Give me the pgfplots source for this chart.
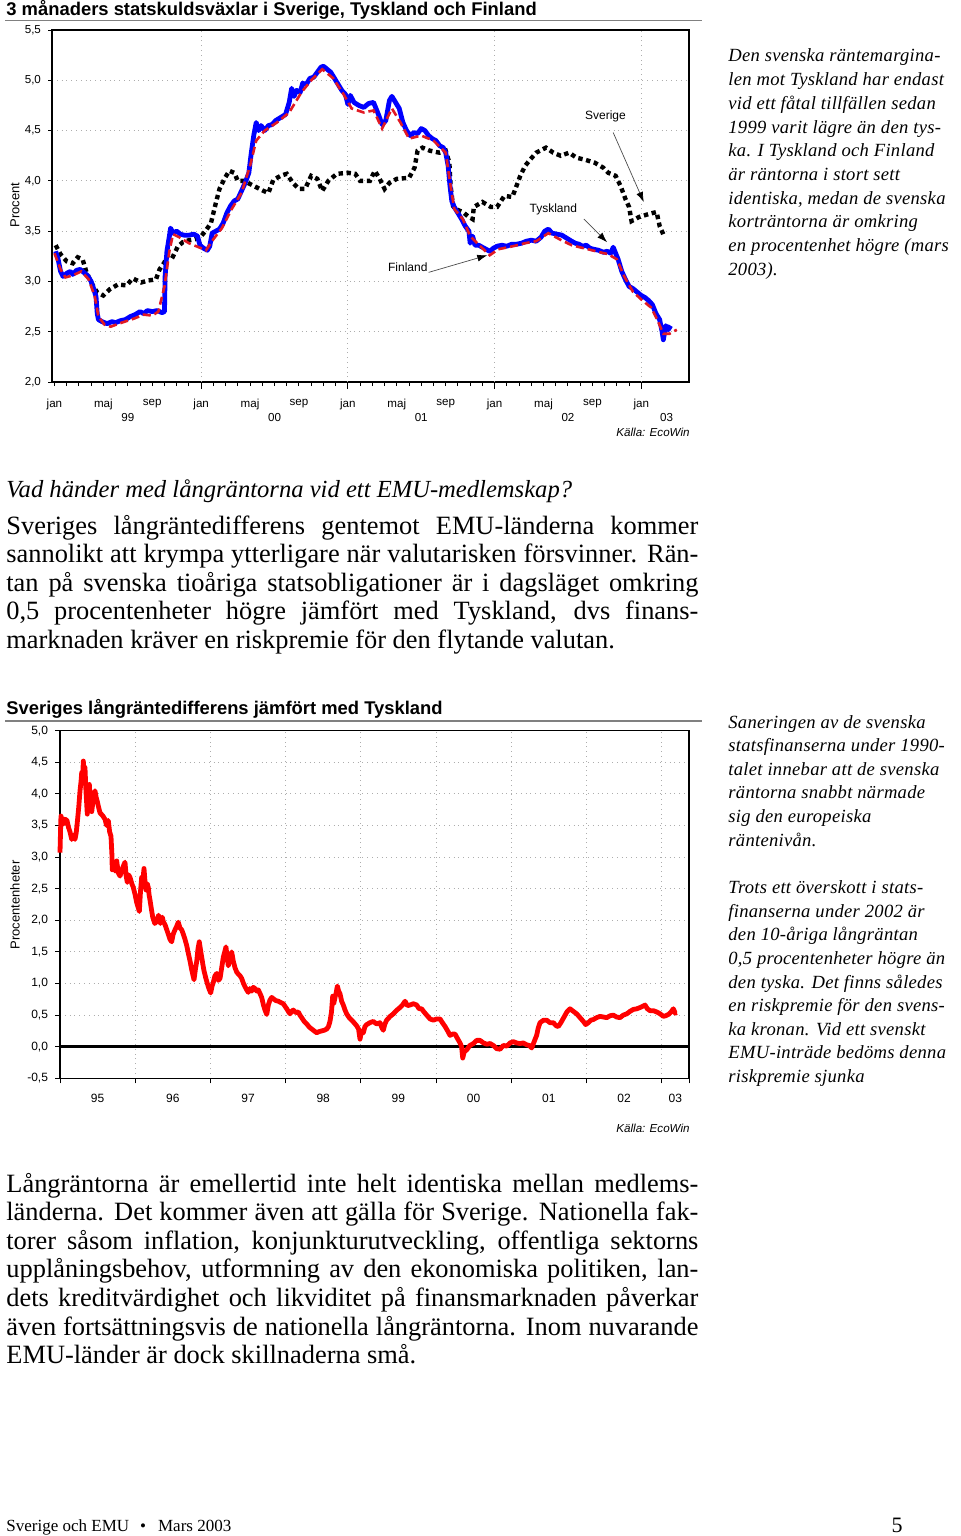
\documentclass[border=0pt]{standalone}
\usepackage{pgfplots}
\pgfplotsset{compat=1.18}
\usepackage{fontspec}
\setmainfont{Liberation Serif}
\newfontfamily\arial{Liberation Sans}
\newfontfamily\sidefont[LetterSpace=1.5]{Liberation Serif}
\usetikzlibrary{arrows.meta}
\definecolor{gridgray}{gray}{0.68}
\definecolor{dred}{RGB}{225,25,35}
\definecolor{dblue}{RGB}{0,0,255}
\pgfplotsset{
  chartstyle/.style={
    scale only axis,
    axis line style={black, line width=0.6pt},
    tick style={black, line width=0.5pt},
    tick align=outside,
    tick pos=left,
    /pgf/number format/use comma,
    /pgf/number format/fixed,
    /pgf/number format/fixed zerofill,
    /pgf/number format/precision=1,
    /pgf/number format/assume math mode=true,
    grid style={gridgray, dotted, line width=0.5pt},
    ymajorgrids,
    clip=false,
  }
}
\newcommand\tkfont{\arial\fontsize{5.8}{6.5}\selectfont}
\newcommand\sfnt{\sidefont\itshape\fontsize{9.3}{11.85}\selectfont}
\begin{document}
\begin{tikzpicture}
\path[use as bounding box] (0,0) rectangle (480pt,-768pt);

% ---------------- Chart 1 ----------------
\node[anchor=base west, inner sep=0, font=\arial\bfseries\fontsize{9.2}{11}\selectfont] at (3pt,-7.6pt) {3 månaders statskuldsväxlar i Sverige, Tyskland och Finland};
\draw[gray, line width=0.7pt] (2.5pt,-10.4pt) -- (351pt,-10.4pt);
\node[rotate=90, inner sep=0, font=\arial\fontsize{6.5}{7}\selectfont] at (7.5pt,-102.5pt) {Procent};

\begin{axis}[chartstyle,
  at={(26pt,-191pt)}, anchor=south west,
  width=318.5pt, height=176pt,
  xmin=-0.2, xmax=51.9, ymin=2, ymax=5.5,
  ytick={2,2.5,3,3.5,4,4.5,5,5.5},
  xtick={0,4,...,48},
  xticklabels={jan,maj,sep,jan,maj,sep,jan,maj,sep,jan,maj,sep,jan},
  minor x tick num=3,
  major tick length=2pt, minor tick length=2pt,
  extra x ticks={12,24,36,48},
  extra x tick labels={},
  extra x tick style={grid=major, major tick length=3.5pt},
  ticklabel style={font=\tkfont},
  xticklabel style={yshift=-3.2pt},
]
\addplot[black, line width=2.2pt, dash pattern=on 2.2pt off 1.8pt] coordinates {
(0.1,3.36) (0.5,3.27) (1.0,3.20) (1.5,3.18) (1.9,3.24) (2.3,3.22) (2.6,3.10) (3.0,2.99) (3.5,2.89) (4.0,2.86) (4.5,2.92) (5.2,2.97) (5.9,2.96) (6.4,3.03) (7.1,2.99) (7.7,3.01) (8.3,3.02) (8.6,3.12) (9.0,3.19) (9.3,3.28) (9.7,3.25) (10.1,3.35) (10.5,3.39) (11.0,3.41) (11.5,3.42) (12.0,3.45) (12.4,3.51) (12.8,3.58) (13.2,3.78) (13.5,3.92) (13.9,4.02) (14.3,4.10) (14.7,4.08) (15.0,4.00) (15.5,4.00) (16.3,3.95) (17.1,3.90) (17.5,3.88) (17.9,4.01) (18.5,4.05) (19.0,4.07) (19.5,3.98) (20.0,3.92) (20.5,3.92) (21.0,4.05) (21.5,4.02) (21.9,3.90) (22.4,4.00) (23.1,4.07) (24.0,4.08) (24.6,4.07) (25.0,4.00) (25.8,4.00) (26.2,4.10) (26.6,4.02) (27.0,3.92) (27.4,3.98) (28.0,4.02) (29.0,4.03) (29.45,4.13) (29.7,4.30) (30.1,4.33) (30.7,4.30) (31.5,4.28) (32.0,4.30) (32.3,4.18) (32.4,3.95) (32.6,3.75) (32.8,3.72) (33.4,3.69) (33.8,3.65) (34.2,3.62) (34.3,3.74) (35.0,3.79) (35.7,3.74) (36.2,3.74) (36.8,3.85) (37.45,3.84) (37.7,3.92) (38.1,4.05) (38.5,4.15) (38.9,4.21) (39.4,4.28) (40.2,4.33) (40.8,4.28) (41.4,4.25) (42.1,4.28) (42.7,4.23) (43.4,4.21) (44.2,4.18) (44.9,4.13) (45.3,4.08) (45.9,4.05) (46.3,3.95) (46.7,3.82) (47.0,3.74) (47.2,3.60) (47.8,3.64) (48.6,3.67) (49.25,3.69) (49.5,3.55) (49.9,3.44)
};
\addplot[dblue, line width=2.4pt, line join=round] coordinates {
(0.1,3.30) (0.3,3.22) (0.5,3.10) (0.7,3.05) (1.0,3.08) (1.3,3.10) (1.5,3.07) (1.8,3.11) (2.1,3.12) (2.4,3.09) (2.7,3.06) (3.0,3.00) (3.2,2.93) (3.4,2.85) (3.5,2.68) (3.6,2.62) (3.9,2.60) (4.3,2.58) (4.7,2.60) (5.0,2.59) (5.4,2.61) (5.8,2.62) (6.2,2.65) (6.6,2.67) (7.0,2.70) (7.3,2.68) (7.6,2.71) (8.0,2.70) (8.4,2.71) (8.8,2.69) (9.0,2.70) (9.05,3.05) (9.2,3.30) (9.4,3.45) (9.5,3.53) (9.7,3.48) (10.0,3.50) (10.3,3.47) (10.6,3.46) (11.0,3.46) (11.4,3.47) (11.7,3.45) (11.9,3.36) (12.2,3.33) (12.5,3.31) (12.7,3.35) (12.9,3.48) (13.2,3.50) (13.5,3.52) (13.8,3.58) (14.1,3.68) (14.4,3.75) (14.7,3.80) (15.0,3.82) (15.3,3.90) (15.6,3.98) (15.9,4.08) (16.1,4.28) (16.3,4.45) (16.5,4.58) (16.7,4.50) (16.9,4.55) (17.2,4.50) (17.5,4.55) (17.8,4.56) (18.1,4.60) (18.5,4.63) (18.9,4.66) (19.2,4.78) (19.4,4.92) (19.6,4.84) (19.8,4.90) (20.1,4.88) (20.3,4.97) (20.6,4.96) (20.9,5.02) (21.2,5.03) (21.5,5.08) (21.8,5.13) (22.0,5.14) (22.3,5.11) (22.6,5.08) (22.9,5.02) (23.2,4.96) (23.5,4.90) (23.8,4.86) (24.0,4.76) (24.2,4.85) (24.5,4.78) (24.9,4.75) (25.3,4.73) (25.7,4.77) (26.1,4.78) (26.5,4.66) (26.8,4.56) (27.1,4.60) (27.4,4.80) (27.6,4.84) (27.9,4.78) (28.2,4.72) (28.5,4.58) (28.8,4.50) (29.1,4.45) (29.4,4.48) (29.7,4.47) (30.0,4.52) (30.3,4.50) (30.6,4.45) (30.9,4.42) (31.2,4.40) (31.5,4.35) (31.8,4.33) (32.0,4.28) (32.2,4.15) (32.35,3.95) (32.5,3.80) (32.7,3.74) (33.0,3.68) (33.3,3.62) (33.6,3.55) (33.9,3.50) (34.0,3.38) (34.2,3.45) (34.4,3.36) (34.7,3.36) (35.0,3.34) (35.3,3.32) (35.6,3.30) (35.9,3.33) (36.2,3.35) (36.6,3.36) (37.0,3.35) (37.4,3.37) (37.8,3.37) (38.2,3.38) (38.6,3.40) (39.0,3.41) (39.4,3.40) (39.8,3.44) (40.1,3.50) (40.4,3.52) (40.7,3.48) (41.1,3.47) (41.5,3.46) (41.9,3.43) (42.3,3.40) (42.6,3.38) (42.9,3.37) (43.2,3.35) (43.5,3.36) (43.8,3.33) (44.1,3.32) (44.5,3.31) (44.9,3.29) (45.2,3.30) (45.5,3.28) (45.7,3.34) (45.9,3.28) (46.1,3.22) (46.4,3.10) (46.7,3.02) (47.0,2.95) (47.3,2.93) (47.6,2.90) (48.0,2.86) (48.3,2.84) (48.6,2.81) (48.9,2.77) (49.2,2.68) (49.5,2.62) (49.7,2.50) (49.8,2.42) (50.0,2.56) (50.2,2.52) (50.4,2.56)
};
\addplot[dred, line width=1.3pt, dash pattern=on 4pt off 2pt] coordinates {
(0.0,3.28) (0.5,3.12) (0.9,3.04) (1.5,3.06) (2.2,3.10) (2.8,3.02) (3.3,2.85) (3.6,2.65) (4.1,2.57) (4.6,2.55) (5.5,2.59) (6.5,2.63) (7.3,2.67) (8.0,2.66) (8.5,2.70) (9.0,2.95) (9.4,3.30) (9.7,3.47) (10.2,3.44) (11.0,3.38) (11.8,3.34) (12.4,3.31) (13.0,3.42) (13.7,3.53) (14.5,3.72) (15.3,3.88) (16.0,4.15) (16.5,4.40) (17.2,4.50) (18.2,4.58) (19.2,4.68) (20.2,4.88) (21.0,5.00) (21.9,5.11) (22.8,5.02) (23.7,4.85) (24.3,4.72) (25.3,4.68) (26.1,4.70) (26.8,4.52) (27.6,4.72) (28.3,4.58) (29.0,4.42) (30.0,4.45) (31.0,4.40) (32.0,4.28) (32.4,3.95) (32.7,3.72) (33.4,3.62) (34.0,3.45) (35.0,3.33) (35.6,3.26) (36.3,3.32) (37.5,3.35) (38.5,3.38) (39.4,3.40) (40.4,3.48) (41.3,3.42) (42.3,3.36) (43.3,3.33) (44.3,3.30) (45.3,3.27) (46.0,3.22) (46.6,3.05) (47.3,2.90) (48.0,2.82) (48.8,2.74) (49.3,2.62) (49.8,2.48) (50.3,2.48) (50.9,2.52)
};
% year labels
\node[font=\tkfont, inner sep=0] at (axis cs:6,2) [yshift=-17.8pt] {99};
\node[font=\tkfont, inner sep=0] at (axis cs:18,2) [yshift=-17.8pt] {00};
\node[font=\tkfont, inner sep=0] at (axis cs:30,2) [yshift=-17.8pt] {01};
\node[font=\tkfont, inner sep=0] at (axis cs:42,2) [yshift=-17.8pt] {02};
\node[font=\tkfont, inner sep=0] at (axis cs:50.06,2) [yshift=-17.8pt] {03};
\node[anchor=east, inner sep=0, font=\arial\itshape\fontsize{5.8}{6.5}\selectfont] at (rel axis cs:1,0) [xshift=0.5pt, yshift=-25pt] {Källa: EcoWin};
% annotations
\node[inner sep=0, font=\arial\fontsize{6}{7}\selectfont] at (axis cs:45.07,4.64) {Sverige};
\node[inner sep=0, font=\arial\fontsize{6}{7}\selectfont] at (axis cs:40.8,3.72) {Tyskland};
\node[inner sep=0, font=\arial\fontsize{6}{7}\selectfont] at (axis cs:28.9,3.14) {Finland};
\draw[gray!60!black, line width=0.35pt, -{Latex[length=5pt,width=3.5pt,color=black]}] (axis cs:45.7,4.48) -- (axis cs:48.2,3.79);
\draw[gray!60!black, line width=0.35pt, -{Latex[length=5pt,width=3.5pt,color=black]}] (axis cs:43.3,3.62) -- (axis cs:45.2,3.39);
\draw[gray!60!black, line width=0.35pt, -{Latex[length=5pt,width=3.5pt,color=black]}] (axis cs:30.6,3.09) -- (axis cs:35.4,3.26);
\end{axis}

% sidebar 1
\foreach \t [count=\i from 0] in {
 {Den svenska räntemargina-},
 {len mot Tyskland har endast},
 {vid ett fåtal tillfällen sedan},
 {1999 varit lägre än den tys-},
 {ka. I Tyskland och Finland},
 {är räntorna i stort sett},
 {identiska, medan de svenska},
 {korträntorna är omkring},
 {en procentenhet högre (mars},
 {2003).}}
 {\node[anchor=base west, inner sep=0, font=\sfnt] at (364pt,{-31pt-\i*11.85pt}) {\t};}

% ---------------- middle text ----------------
\node[anchor=base west, inner sep=0, font=\itshape\fontsize{12.3}{14.3}\selectfont] at (3pt,-248.5pt) {Vad händer med långräntorna vid ett EMU-medlemskap?};
\foreach \t [count=\i from 0] in {
 {Sveriges långräntedifferens gentemot EMU-länderna kommer},
 {sannolikt att krympa ytterligare när valutarisken försvinner. Rän-},
 {tan på svenska tioåriga statsobligationer är i dagsläget omkring},
 {0,5 procentenheter högre jämfört med Tyskland, dvs finans-}}
 {\node[anchor=base west, inner sep=0, font=\fontsize{13.2}{14.3}\selectfont] at (3pt,{-267pt-\i*14.3pt}) {\makebox[346pt][s]{\t}};}
\node[anchor=base west, inner sep=0, font=\fontsize{13.2}{14.3}\selectfont] at (3pt,{-267pt-4*14.3pt}) {marknaden kräver en riskpremie för den flytande valutan.};

% ---------------- Chart 2 ----------------
\node[anchor=base west, inner sep=0, font=\arial\bfseries\fontsize{9.2}{11}\selectfont] at (3pt,-357.3pt) {Sveriges långräntedifferens jämfört med Tyskland};
\draw[gray, line width=0.7pt] (2.5pt,-360.4pt) -- (351pt,-360.4pt);
\node[rotate=90, inner sep=0, font=\arial\fontsize{6.5}{7}\selectfont] at (7.5pt,-452.5pt) {Procentenheter};

\begin{axis}[chartstyle,
  at={(30pt,-539.15pt)}, anchor=south west,
  width=314.5pt, height=173.8pt,
  xmin=1995, xmax=2003.364, ymin=-0.5, ymax=5,
  ytick={-0.5,0,0.5,1,1.5,2,2.5,3,3.5,4,4.5,5},
  xtick={1995,1996,1997,1998,1999,2000,2001,2002,2003,2003.364},
  xticklabels={95,96,97,98,99,00,01,02,03},
  x tick label as interval,
  xmajorgrids,
  major tick length=2.5pt,
  extra y ticks={0}, extra y tick labels={},
  extra y tick style={grid=major, grid style={black, solid, line width=1.5pt}, major tick length=0pt},
  ticklabel style={font=\arial\fontsize{6}{7}\selectfont},
  xticklabel style={yshift=-2pt},
]
\addplot[red, line width=2.4pt, line join=round] coordinates {
(1995.000,3.07) (1995.008,3.45) (1995.013,3.65) (1995.040,3.52) (1995.066,3.60) (1995.093,3.58) (1995.113,3.47) (1995.133,3.40) (1995.156,3.28) (1995.180,3.35) (1995.199,3.28) (1995.215,3.38) (1995.230,3.55) (1995.250,3.80) (1995.266,4.05) (1995.280,4.20) (1995.289,4.34) (1995.300,4.20) (1995.310,4.52) (1995.322,4.30) (1995.332,4.42) (1995.345,4.05) (1995.363,3.68) (1995.375,3.95) (1995.390,4.15) (1995.405,3.82) (1995.422,3.72) (1995.440,3.90) (1995.465,4.05) (1995.480,3.95) (1995.496,3.88) (1995.515,3.78) (1995.532,3.70) (1995.565,3.66) (1995.598,3.60) (1995.620,3.50) (1995.642,3.58) (1995.660,3.40) (1995.678,3.33) (1995.690,3.05) (1995.695,2.80) (1995.715,2.88) (1995.731,2.78) (1995.754,2.94) (1995.775,2.75) (1995.798,2.70) (1995.830,2.82) (1995.864,2.92) (1995.880,2.70) (1995.895,2.60) (1995.912,2.72) (1995.931,2.68) (1995.955,2.58) (1995.975,2.52) (1996.000,2.40) (1996.020,2.28) (1996.040,2.20) (1996.055,2.14) (1996.070,2.45) (1996.086,2.68) (1996.100,2.60) (1996.117,2.82) (1996.130,2.62) (1996.144,2.48) (1996.160,2.58) (1996.174,2.52) (1996.185,2.40) (1996.197,2.32) (1996.215,2.18) (1996.233,2.05) (1996.260,1.95) (1996.286,1.98) (1996.310,2.08) (1996.335,1.95) (1996.360,2.05) (1996.374,1.98) (1996.400,1.92) (1996.420,1.85) (1996.440,1.78) (1996.462,1.70) (1996.485,1.66) (1996.505,1.78) (1996.529,1.85) (1996.550,1.90) (1996.573,1.97) (1996.595,1.88) (1996.618,1.85) (1996.640,1.78) (1996.662,1.70) (1996.685,1.60) (1996.706,1.48) (1996.730,1.35) (1996.751,1.22) (1996.770,1.12) (1996.782,1.06) (1996.800,1.22) (1996.818,1.35) (1996.835,1.55) (1996.852,1.66) (1996.870,1.52) (1996.884,1.42) (1996.900,1.30) (1996.915,1.20) (1996.940,1.08) (1996.959,1.00) (1996.980,0.92) (1997.004,0.85) (1997.020,0.95) (1997.039,1.02) (1997.060,1.12) (1997.084,1.16) (1997.105,1.05) (1997.128,1.08) (1997.150,1.25) (1997.172,1.42) (1997.190,1.50) (1997.207,1.58) (1997.222,1.42) (1997.238,1.28) (1997.260,1.40) (1997.283,1.50) (1997.305,1.35) (1997.327,1.25) (1997.350,1.18) (1997.371,1.15) (1997.395,1.12) (1997.416,1.08) (1997.440,1.00) (1997.460,0.95) (1997.482,0.90) (1997.504,0.86) (1997.525,0.92) (1997.549,0.88) (1997.570,0.94) (1997.593,0.92) (1997.615,0.88) (1997.637,0.90) (1997.660,0.84) (1997.682,0.78) (1997.705,0.66) (1997.726,0.58) (1997.749,0.51) (1997.770,0.66) (1997.793,0.74) (1997.815,0.78) (1997.836,0.76) (1997.870,0.73) (1997.903,0.72) (1997.935,0.70) (1997.969,0.68) (1998.015,0.60) (1998.040,0.55) (1998.059,0.52) (1998.080,0.56) (1998.102,0.58) (1998.135,0.54) (1998.169,0.55) (1998.190,0.50) (1998.214,0.46) (1998.247,0.40) (1998.281,0.36) (1998.315,0.31) (1998.347,0.28) (1998.380,0.25) (1998.414,0.22) (1998.447,0.24) (1998.480,0.25) (1998.513,0.26) (1998.547,0.28) (1998.570,0.32) (1998.590,0.40) (1998.610,0.55) (1998.626,0.80) (1998.640,0.68) (1998.657,0.78) (1998.672,0.85) (1998.688,0.96) (1998.705,0.88) (1998.723,0.84) (1998.745,0.72) (1998.767,0.66) (1998.790,0.58) (1998.812,0.52) (1998.845,0.46) (1998.878,0.42) (1998.910,0.38) (1998.945,0.33) (1998.970,0.28) (1998.989,0.12) (1999.010,0.25) (1999.033,0.22) (1999.055,0.32) (1999.078,0.35) (1999.120,0.38) (1999.166,0.40) (1999.210,0.36) (1999.255,0.38) (1999.280,0.30) (1999.299,0.26) (1999.320,0.36) (1999.344,0.42) (1999.390,0.48) (1999.432,0.52) (1999.480,0.58) (1999.521,0.62) (1999.555,0.66) (1999.588,0.72) (1999.620,0.65) (1999.654,0.66) (1999.700,0.68) (1999.743,0.66) (1999.775,0.60) (1999.809,0.60) (1999.840,0.55) (1999.876,0.50) (1999.920,0.44) (1999.964,0.42) (2000.010,0.44) (2000.053,0.44) (2000.085,0.38) (2000.120,0.32) (2000.150,0.26) (2000.186,0.18) (2000.220,0.20) (2000.253,0.20) (2000.290,0.12) (2000.319,0.06) (2000.340,0.00) (2000.355,-0.18) (2000.375,-0.08) (2000.408,-0.05) (2000.450,0.02) (2000.497,0.05) (2000.540,0.10) (2000.585,0.10) (2000.630,0.06) (2000.674,0.04) (2000.720,0.05) (2000.762,0.02) (2000.805,-0.03) (2000.851,-0.04) (2000.895,0.02) (2000.940,0.01) (2000.985,0.06) (2001.028,0.08) (2001.070,0.06) (2001.117,0.05) (2001.160,0.06) (2001.206,0.03) (2001.240,0.02) (2001.272,-0.02) (2001.305,0.08) (2001.338,0.18) (2001.360,0.30) (2001.383,0.38) (2001.430,0.42) (2001.472,0.42) (2001.515,0.38) (2001.560,0.38) (2001.600,0.33) (2001.626,0.32) (2001.660,0.38) (2001.693,0.45) (2001.740,0.55) (2001.782,0.60) (2001.825,0.56) (2001.871,0.52) (2001.915,0.46) (2001.959,0.40) (2001.990,0.35) (2002.025,0.38) (2002.060,0.42) (2002.092,0.43) (2002.135,0.46) (2002.181,0.48) (2002.225,0.47) (2002.270,0.46) (2002.315,0.49) (2002.358,0.50) (2002.400,0.47) (2002.447,0.46) (2002.490,0.50) (2002.536,0.52) (2002.580,0.56) (2002.624,0.59) (2002.670,0.60) (2002.713,0.62) (2002.750,0.64) (2002.779,0.66) (2002.810,0.60) (2002.846,0.57) (2002.890,0.57) (2002.935,0.55) (2002.980,0.52) (2003.023,0.48) (2003.055,0.49) (2003.090,0.51) (2003.125,0.55) (2003.156,0.60) (2003.180,0.53) (2003.201,0.54)
};
\node[anchor=east, inner sep=0, font=\arial\itshape\fontsize{5.8}{6.5}\selectfont] at (rel axis cs:1,0) [xshift=0.5pt, yshift=-25pt] {Källa: EcoWin};
\end{axis}

% sidebar 2
\foreach \t [count=\i from 0] in {
 {Saneringen av de svenska},
 {statsfinanserna under 1990-},
 {talet innebar att de svenska},
 {räntorna snabbt närmade},
 {sig den europeiska},
 {räntenivån.},
 {},
 {Trots ett överskott i stats-},
 {finanserna under 2002 är},
 {den 10-åriga långräntan},
 {0,5 procentenheter högre än},
 {den tyska. Det finns således},
 {en riskpremie för den svens-},
 {ka kronan. Vid ett svenskt},
 {EMU-inträde bedöms denna},
 {riskpremie sjunka}}
 {\node[anchor=base west, inner sep=0, font=\sfnt] at (364pt,{-364pt-\i*11.82pt}) {\t};}

% ---------------- bottom text ----------------
\foreach \t [count=\i from 0] in {
 {Långräntorna är emellertid inte helt identiska mellan medlems-},
 {länderna. Det kommer även att gälla för Sverige. Nationella fak-},
 {torer såsom inflation, konjunkturutveckling, offentliga sektorns},
 {upplåningsbehov, utformning av den ekonomiska politiken, lan-},
 {dets kreditvärdighet och likviditet på finansmarknaden påverkar},
 {även fortsättningsvis de nationella långräntorna. Inom nuvarande}}
 {\node[anchor=base west, inner sep=0, font=\fontsize{13.2}{14.3}\selectfont] at (3pt,{-596pt-\i*14.3pt}) {\makebox[346pt][s]{\t}};}
\node[anchor=base west, inner sep=0, font=\fontsize{13.2}{14.3}\selectfont] at (3pt,{-596pt-6*14.3pt}) {EMU-länder är dock skillnaderna små.};

% footer
\node[anchor=base west, inner sep=0, font=\fontsize{8.5}{10}\selectfont] at (3pt,-765.5pt) {Sverige och EMU\hspace{5.5pt}\textbullet\hspace{6pt}Mars 2003};
\node[anchor=base, inner sep=0, font=\fontsize{11}{12}\selectfont] at (448.5pt,-766pt) {5};
\end{tikzpicture}
\end{document}
